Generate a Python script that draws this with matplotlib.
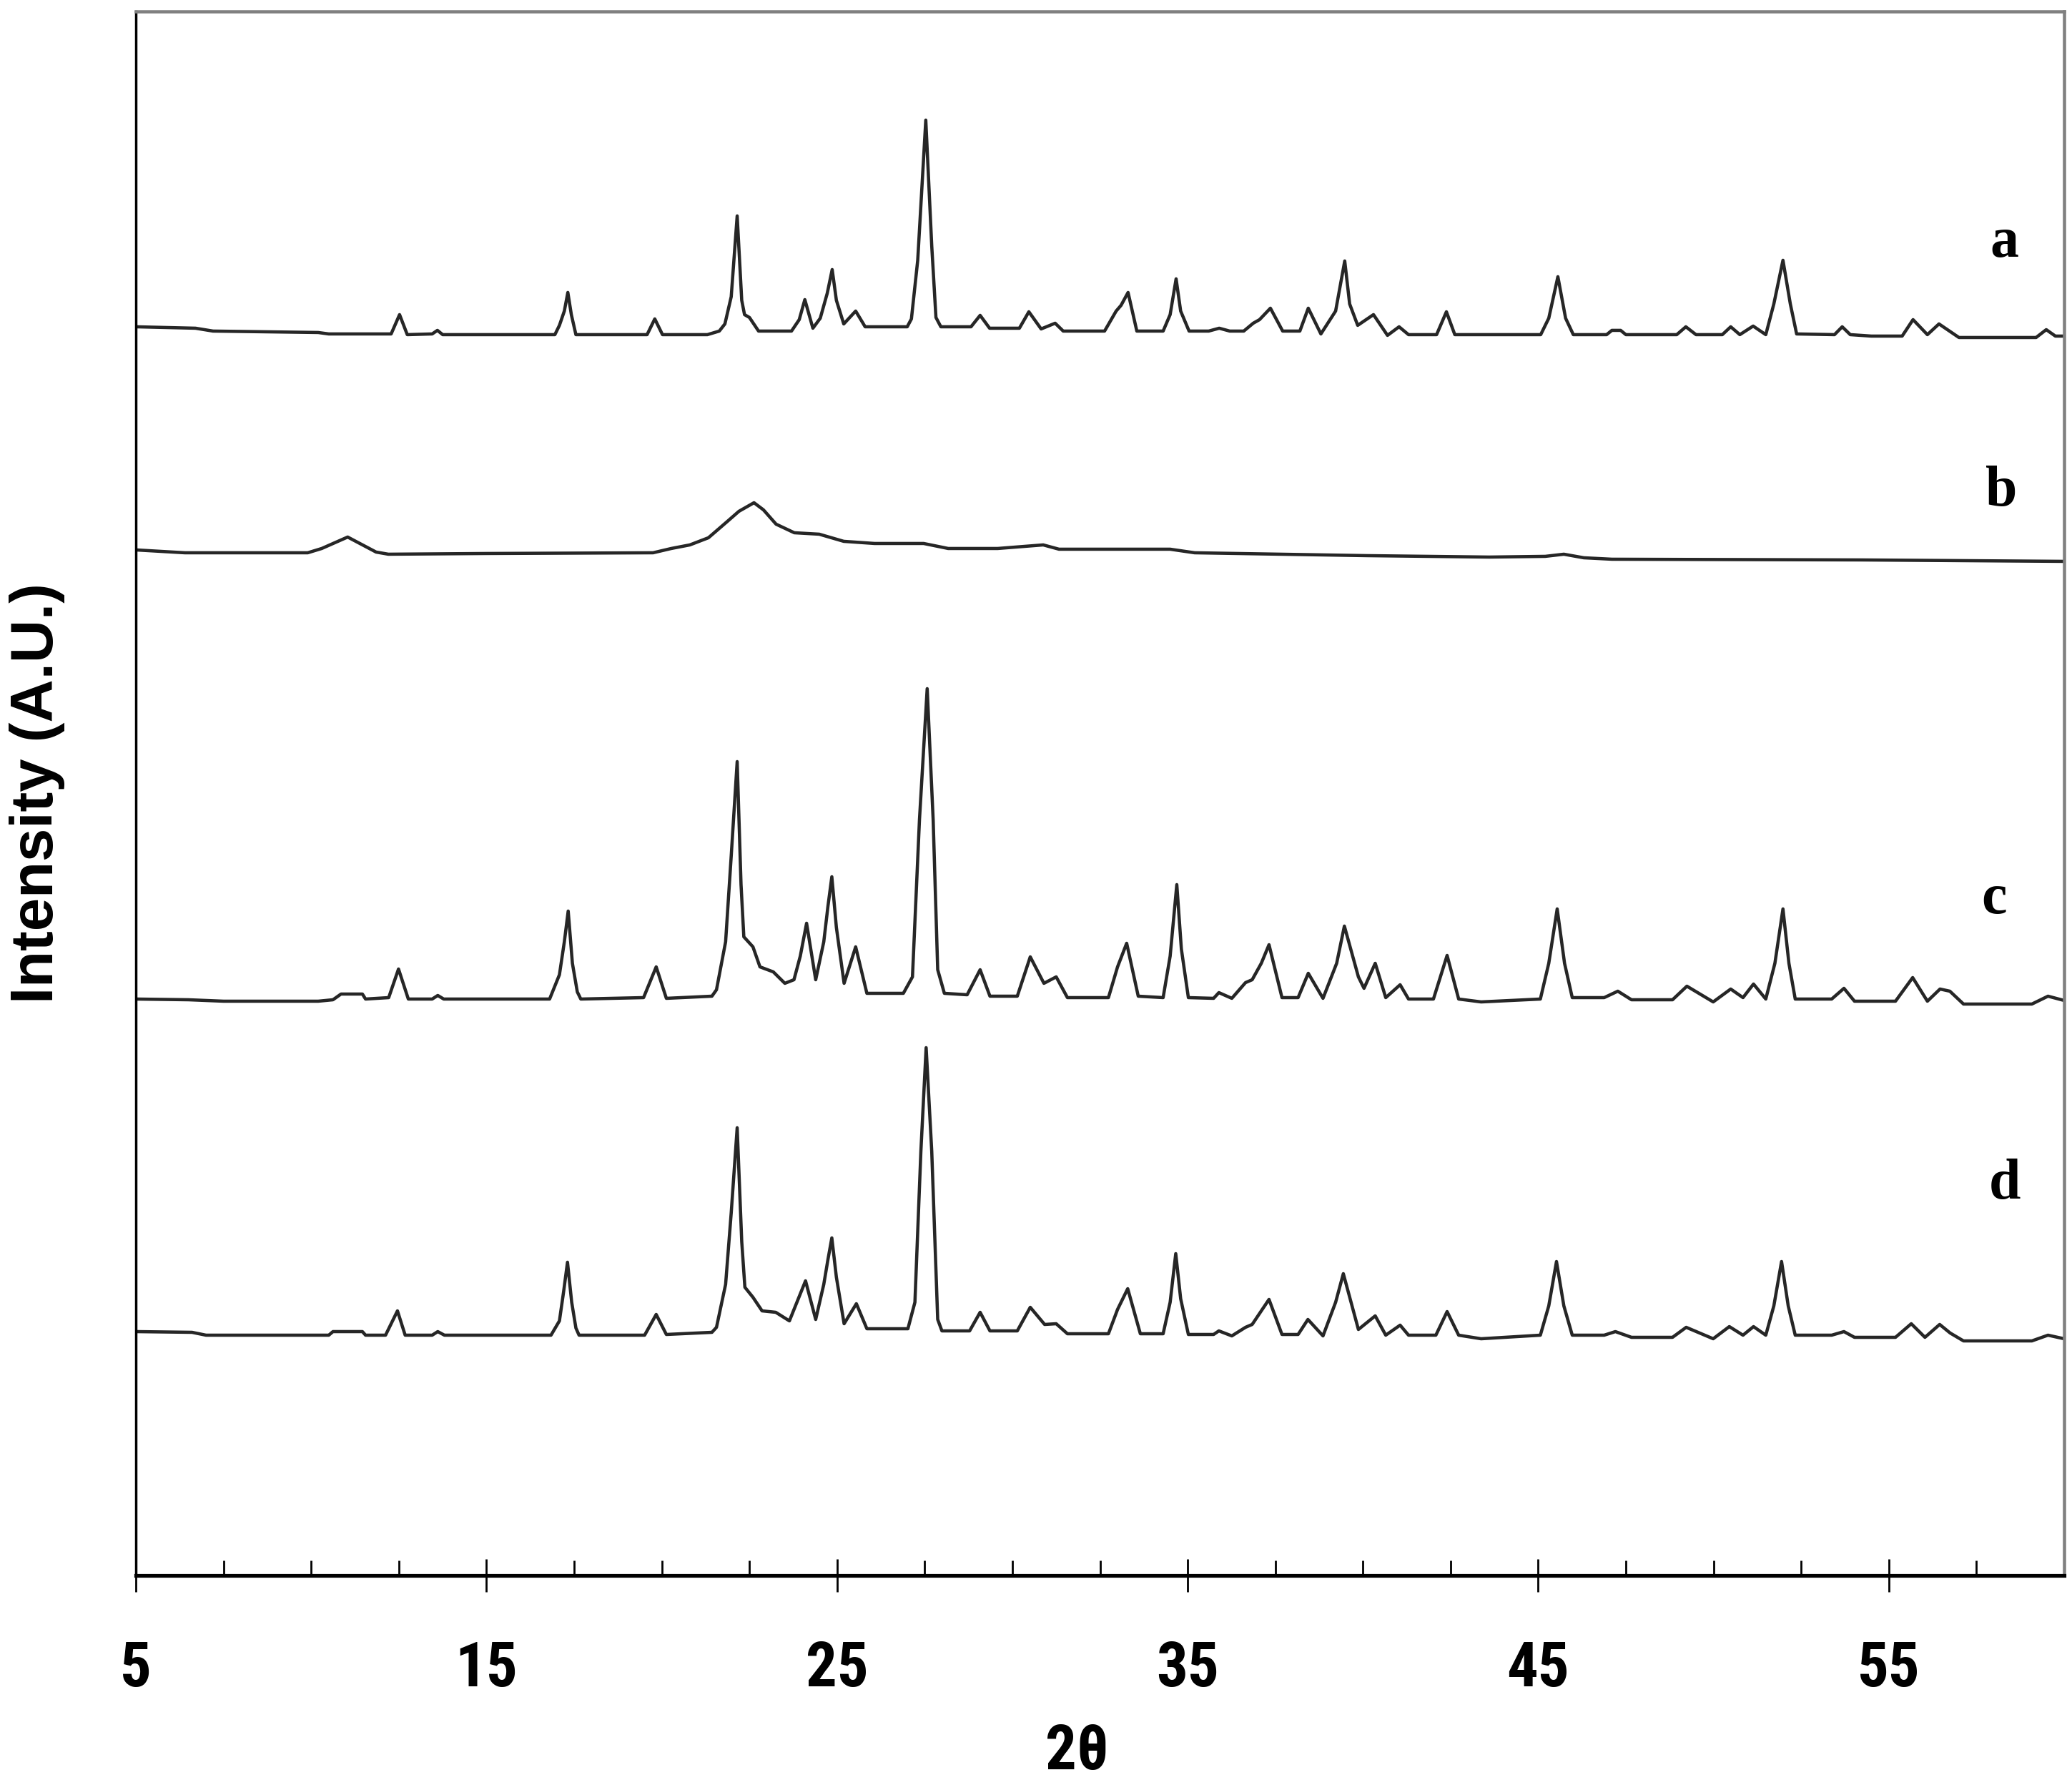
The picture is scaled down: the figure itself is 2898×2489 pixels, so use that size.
import numpy as np
import matplotlib.pyplot as plt
from matplotlib.ticker import MultipleLocator

# XRD patterns, (2theta, intensity above own baseline, a.u.)
trace_a = [
    (5.0, 8), (6.7, 6), (7.2, 2), (10.2, 0), (10.5, -2),
    (12.28, -2), (12.52, 25), (12.74, -3),
    (13.45, -2), (13.6, 3), (13.75, -3),
    (16.95, -3), (17.08, 10), (17.22, 30), (17.32, 56), (17.42, 25), (17.55, -3),
    (19.58, -3), (19.8, 19), (20.02, -3),
    (21.3, -3), (21.64, 2), (21.8, 12), (21.98, 50), (22.15, 163), (22.28, 45), (22.36, 25), (22.5, 21), (22.76, 2),
    (23.7, 2), (23.92, 18), (24.08, 46), (24.31, 6), (24.52, 20), (24.72, 55), (24.86, 88), (24.98, 45), (25.19, 12),
    (25.53, 30), (25.8, 8),
    (27.0, 8), (27.12, 19), (27.3, 101), (27.53, 297), (27.7, 121), (27.82, 21), (27.96, 8),
    (28.82, 8), (29.08, 24), (29.35, 6),
    (30.2, 6), (30.47, 29), (30.82, 5), (31.22, 13), (31.45, 2),
    (32.63, 2), (32.96, 30), (33.1, 38), (33.3, 56), (33.55, 2),
    (34.3, 2), (34.5, 25), (34.67, 75), (34.8, 30), (35.04, 2),
    (35.6, 2), (35.9, 6), (36.2, 2), (36.6, 2), (36.87, 13), (37.05, 18), (37.36, 34), (37.71, 2),
    (38.2, 2), (38.44, 34), (38.8, -2), (39.22, 30), (39.48, 100), (39.62, 40), (39.85, 10),
    (40.3, 25), (40.7, -4), (41.03, 8), (41.3, -3),
    (42.1, -3), (42.38, 29), (42.62, -3),
    (45.07, -3), (45.3, 20), (45.56, 78), (45.78, 20), (46.0, -3),
    (46.95, -3), (47.1, 3), (47.35, 3), (47.5, -3),
    (48.95, -3), (49.21, 8), (49.5, -3),
    (50.25, -3), (50.49, 8), (50.75, -3), (51.13, 9), (51.49, -3), (51.72, 40), (51.98, 101), (52.19, 40), (52.37, -2),
    (53.45, -3), (53.67, 8), (53.9, -3),
    (54.5, -5), (55.38, -5), (55.69, 18), (56.1, -3), (56.43, 12), (56.73, 2), (57.0, -7),
    (59.2, -7), (59.49, 4), (59.75, -5), (60.0, -5),
]

trace_b = [
    (5.0, 6), (6.4, 2), (9.9, 2), (10.3, 8), (11.04, 24), (11.85, 3), (12.2, 0),
    (15.0, 1), (19.75, 2), (20.27, 8), (20.8, 13), (21.33, 23), (21.85, 45), (22.2, 60), (22.63, 72),
    (22.9, 62), (23.26, 42), (23.78, 30), (24.49, 28), (25.19, 18), (26.07, 15), (27.47, 15),
    (28.17, 8), (29.58, 8), (30.88, 13), (31.33, 7), (34.5, 7), (35.2, 2), (40.1, -2), (43.6, -4),
    (45.2, -3), (45.73, 0), (46.3, -5), (47.1, -7), (54.2, -8), (60.0, -10),
]

trace_c = [
    (5.0, 0), (6.5, -1), (7.5, -3), (10.2, -3), (10.62, -1), (10.85, 7), (11.46, 7), (11.55, 0),
    (12.21, 2), (12.49, 42), (12.77, 0),
    (13.45, 0), (13.61, 5), (13.78, 0),
    (16.8, 0), (17.08, 34), (17.22, 80), (17.33, 123), (17.45, 50), (17.59, 10), (17.69, 0),
    (19.48, 2), (19.84, 45), (20.13, 1),
    (21.43, 4), (21.56, 13), (21.82, 80), (21.98, 200), (22.15, 332), (22.26, 160), (22.34, 87), (22.6, 73),
    (22.8, 45), (23.18, 38), (23.51, 22), (23.77, 27),
    (23.95, 60), (24.13, 106), (24.39, 27), (24.62, 80), (24.74, 130), (24.85, 171), (24.98, 100), (25.2, 22),
    (25.53, 73), (25.85, 8),
    (26.89, 8), (27.15, 31), (27.35, 251), (27.57, 434), (27.74, 251), (27.87, 41), (28.06, 8),
    (28.71, 6), (29.08, 41), (29.36, 4),
    (30.14, 4), (30.51, 59), (30.9, 22), (31.25, 31), (31.57, 2),
    (32.74, 2), (33.0, 45), (33.26, 78), (33.59, 4),
    (34.3, 2), (34.5, 60), (34.69, 160), (34.82, 70), (35.02, 2),
    (35.74, 1), (35.89, 9), (36.26, 1), (36.65, 23), (36.84, 27), (37.1, 50), (37.32, 76), (37.69, 2),
    (38.15, 2), (38.44, 36), (38.86, 1), (39.25, 50), (39.47, 102), (39.87, 31), (40.03, 15), (40.35, 50),
    (40.65, 2), (41.06, 20), (41.3, 0),
    (42.01, 0), (42.4, 61), (42.73, 0), (43.37, -4), (45.06, 0), (45.3, 50), (45.54, 126), (45.75, 50), (45.97, 2),
    (46.88, 2), (47.27, 11), (47.66, -1), (48.83, -1), (49.24, 18), (49.99, -4), (50.49, 14), (50.84, 2),
    (51.14, 21), (51.49, 0), (51.75, 50), (51.98, 126), (52.15, 50), (52.33, 0),
    (53.37, 0), (53.72, 15), (54.02, -3), (55.19, -3), (55.68, 30), (56.1, -3), (56.46, 14), (56.74, 11),
    (57.13, -7), (59.08, -7), (59.54, 4), (60.0, -2),
]

trace_d = [
    (5.0, 4), (6.6, 3), (7.0, -1), (10.5, -1), (10.62, 4), (11.46, 4), (11.55, -1),
    (12.12, -1), (12.46, 33), (12.68, -1),
    (13.45, -1), (13.61, 4), (13.8, -1),
    (16.84, -1), (17.08, 19), (17.2, 60), (17.31, 101), (17.43, 45), (17.55, 9), (17.64, -1),
    (19.51, -1), (19.84, 28), (20.13, 0),
    (21.43, 3), (21.56, 10), (21.82, 70), (21.98, 170), (22.15, 289), (22.28, 130), (22.37, 66), (22.6, 52),
    (22.86, 33), (23.25, 31), (23.64, 19),
    (24.1, 75), (24.39, 21), (24.62, 70), (24.74, 105), (24.85, 135), (24.98, 80), (25.2, 15), (25.55, 43), (25.85, 8),
    (27.02, 8), (27.22, 45), (27.39, 256), (27.54, 401), (27.7, 256), (27.87, 21), (27.99, 5),
    (28.78, 5), (29.08, 31), (29.36, 5),
    (30.14, 5), (30.51, 38), (30.92, 14), (31.25, 15), (31.57, 1),
    (32.74, 1), (33.0, 35), (33.29, 64), (33.65, 1),
    (34.3, 1), (34.5, 45), (34.66, 113), (34.8, 50), (35.02, 0),
    (35.74, 0), (35.89, 5), (36.26, -2), (36.65, 10), (36.84, 14), (37.1, 33), (37.32, 49), (37.69, 0),
    (38.15, 0), (38.43, 21), (38.86, -2), (39.22, 45), (39.44, 85), (39.87, 7), (40.35, 26), (40.65, -1),
    (41.06, 13), (41.3, -1),
    (42.08, -1), (42.4, 32), (42.73, -1), (43.37, -6), (45.06, -1), (45.3, 40), (45.52, 102), (45.73, 40), (45.97, -1),
    (46.88, -1), (47.2, 4), (47.66, -4), (48.83, -4), (49.22, 10), (49.99, -6), (50.45, 11), (50.84, -1),
    (51.14, 11), (51.49, -1), (51.72, 40), (51.94, 102), (52.13, 40), (52.33, -1),
    (53.37, -1), (53.72, 4), (54.02, -4), (55.19, -4), (55.64, 15), (56.03, -4), (56.45, 14), (56.75, 2),
    (57.13, -9), (59.08, -9), (59.54, -1), (60.0, -6),
]

sample_names = ['a', 'b', 'c', 'd']
x_ticks = [5, 15, 25, 35, 45, 55]

# stacking
offsets = [1738, 1428, 806, 337]
name_pos = [(58.3, 125), (58.2, 87), (58.0, 139), (58.3, 209)]

narrow = ['Liberation Sans Narrow', 'Roboto Condensed', 'Open Sans Condensed', 'DejaVu Sans']

fig = plt.figure(figsize=(11.592, 9.956), dpi=250)
ax = fig.add_axes([0.0656, 0.1149, 0.9306, 0.8787])

for pts, off, name, (lx, ly) in zip([trace_a, trace_b, trace_c, trace_d], offsets, sample_names, name_pos):
    tt, inten = np.array(pts).T
    ax.plot(tt, inten + off, color='#262626', lw=1.3, solid_joinstyle='round')
    ax.text(lx, off + ly, name, ha='center', va='center', fontsize=23, fontweight='bold',
            family=['Liberation Serif', 'DejaVu Serif'])

ax.set_xlim(5, 60)
ax.set_ylim(0, 2187)
ax.set_yticks([])
ax.set_xticks(x_ticks)
ax.xaxis.set_minor_locator(MultipleLocator(2.5))
ax.tick_params(axis='x', which='major', direction='inout', length=13, width=0.8, pad=19)
ax.tick_params(axis='x', which='minor', direction='in', length=6, width=0.8)
for lab in ax.get_xticklabels():
    lab.set_family(narrow)
    lab.set_stretch('condensed')
    lab.set_fontweight('bold')
    lab.set_fontsize(25)

ax.spines['left'].set_linewidth(1.0)
ax.spines['bottom'].set_linewidth(1.5)
for s in ['top', 'right']:
    ax.spines[s].set_color('#808080')
    ax.spines[s].set_linewidth(1.3)

ax.set_xlabel('2θ', family=narrow, fontstretch='condensed', fontweight='bold', fontsize=25)
ax.xaxis.set_label_coords(0.488, -0.113)
ax.xaxis.label.set_va('center')
ax.set_ylabel('Intensity (A.U.)', family=['Liberation Sans', 'DejaVu Sans'], fontweight='bold', fontsize=24)
ax.yaxis.set_label_coords(-0.0512, 0.5)
ax.yaxis.label.set_va('center')

fig.savefig('out.png', dpi=250)
